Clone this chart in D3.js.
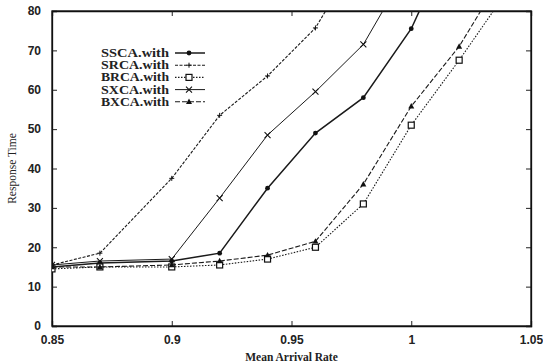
<!DOCTYPE html>
<html>
<head>
<meta charset="utf-8">
<script src="https://cdn.jsdelivr.net/npm/d3@7"></script>
<style>
  body { margin: 0; background: #fff; }
  svg { display: block; font-family: "Liberation Serif", "DejaVu Serif", serif; }
  .tick text { font-size: 12px; font-weight: bold; fill: #222; }
  .legend text { font-size: 11.5px; font-weight: bold; fill: #222; }
  .axis-label { font-size: 11.5px; fill: #222; }
</style>
</head>
<body>
<svg width="543" height="362"></svg>
<script>
const chartSize = { width: 543, height: 362 };
const margin = { left: 52, right: 12, top: 11, bottom: 36 };

const width = chartSize.width - margin.left - margin.right;
const height = chartSize.height - margin.top - margin.bottom;

const rates = [0.85, 0.87, 0.9, 0.92, 0.94, 0.96, 0.98, 1.0, 1.02, 1.04];
const ssca = [15, 16, 16.5, 18.5, 35, 49, 58, 75.5, 102, null];
const srca = [15.5, 18.5, 37.5, 53.5, 63.5, 75.7, 96, null, null, null];
const brca = [14.5, 15, 15, 15.5, 17, 20, 31, 51, 67.5, 85];
const sxca = [15.5, 16.5, 17, 32.5, 48.5, 59.5, 71.5, 92.5, null, null];
const bxca = [15, 15, 15.5, 16.5, 18, 21.5, 36, 55.8, 71, 91];

const xTicks = [0.85, 0.9, 0.95, 1, 1.05];
const yTicks = [0, 10, 20, 30, 40, 50, 60, 70, 80];

const seriesNames = ["SSCA.with", "SRCA.with", "BRCA.with", "SXCA.with", "BXCA.with"];
const seriesValues = [ssca, srca, brca, sxca, bxca];

const styles = {
    "SSCA.with": { dash: null, width: 1.5, marker: "circle" },
    "SRCA.with": { dash: "3,1.5", width: 1.1, marker: "plus" },
    "BRCA.with": { dash: "1.5,1.5", width: 1.1, marker: "square" },
    "SXCA.with": { dash: null, width: 1, marker: "cross" },
    "BXCA.with": { dash: "5,2", width: 1.1, marker: "triangle" }
};

const svg = d3.select("svg");

const x = d3.scaleLinear().domain([0.85, 1.05]).range([0, width]);
const y = d3.scaleLinear().domain([0, 80]).range([height, 0]);

const g = svg.append("g")
    .attr("transform", `translate(${margin.left},${margin.top})`);

g.append("clipPath").attr("id", "clip")
    .append("rect").attr("width", width).attr("height", height);

// axes with inward ticks on every side
g.append("g").attr("transform", `translate(0,${height})`)
    .call(d3.axisBottom(x).tickValues(xTicks).tickSize(-5).tickPadding(9).tickFormat(d3.format("")));
g.append("g")
    .call(d3.axisLeft(y).tickValues(yTicks).tickSize(-5).tickPadding(11));
g.append("g")
    .call(d3.axisTop(x).tickValues(xTicks).tickSize(-5).tickFormat(""));
g.append("g").attr("transform", `translate(${width},0)`)
    .call(d3.axisRight(y).tickValues(yTicks).tickSize(-5).tickFormat(""));

g.selectAll(".domain").attr("stroke", "#111").attr("stroke-width", 1.3);
g.selectAll(".tick line").attr("stroke", "#222");

g.append("rect")
    .attr("width", width).attr("height", height)
    .attr("fill", "none").attr("stroke", "#111").attr("stroke-width", 1.3);

g.append("text")
    .attr("class", "axis-label")
    .attr("x", x(0.95)).attr("y", height + 35)
    .attr("text-anchor", "middle")
    .style("font-weight", "bold")
    .text("Mean Arrival Rate");

g.append("text")
    .attr("class", "axis-label")
    .attr("transform", "rotate(-90)")
    .attr("x", -height / 2).attr("y", -36)
    .attr("text-anchor", "middle")
    .text("Response Time");

const drawMarker = (sel, type) => {
    if (type === "circle") {
        sel.append("circle").attr("r", 2.4).attr("fill", "#111");
    } else if (type === "plus") {
        sel.append("path").attr("d", "M-2.5,0H2.5M0,-2.5V2.5").attr("stroke", "#111").attr("stroke-width", 1);
    } else if (type === "square") {
        sel.append("rect").attr("x", -3).attr("y", -3).attr("width", 6).attr("height", 6)
            .attr("fill", "#fff").attr("stroke", "#111").attr("stroke-width", 1.2);
    } else if (type === "cross") {
        sel.append("path").attr("d", "M-3,-3L3,3M-3,3L3,-3").attr("stroke", "#111").attr("stroke-width", 1.1);
    } else if (type === "triangle") {
        sel.append("path").attr("d", "M0,-3.2L3,2.2L-3,2.2Z").attr("fill", "#111");
    }
};

const plot = g.append("g").attr("clip-path", "url(#clip)");

const line = d3.line()
    .defined(d => d.v !== null)
    .x(d => x(d.r))
    .y(d => y(d.v));

seriesNames.forEach((name, i) => {
    const st = styles[name];
    const pts = rates.map((r, k) => ({ r, v: seriesValues[i][k] }));
    plot.append("path")
        .datum(pts)
        .attr("fill", "none")
        .attr("stroke", "#1a1a1a")
        .attr("stroke-width", st.width)
        .attr("stroke-dasharray", st.dash)
        .attr("d", line);
    plot.selectAll(null)
        .data(pts.filter(p => p.v !== null && p.v <= 80))
        .enter().append("g")
        .attr("transform", p => `translate(${x(p.r)},${y(p.v)})`)
        .each(function () { drawMarker(d3.select(this), st.marker); });
});

// legend
const legend = svg.append("g").attr("class", "legend")
    .attr("transform", "translate(169,53)");

seriesNames.forEach((name, i) => {
    const st = styles[name];
    const row = legend.append("g").attr("transform", `translate(0,${i * 12.2})`);
    row.append("text")
        .attr("x", -68).attr("y", 4)
        .attr("textLength", 68)
        .attr("lengthAdjust", "spacingAndGlyphs")
        .text(name);
    row.append("line")
        .attr("x1", 6).attr("x2", 36).attr("y1", 0).attr("y2", 0)
        .attr("stroke", "#1a1a1a")
        .attr("stroke-width", st.width)
        .attr("stroke-dasharray", st.dash);
    drawMarker(row.append("g").attr("transform", "translate(20,0)"), st.marker);
});
</script>
</body>
</html>
